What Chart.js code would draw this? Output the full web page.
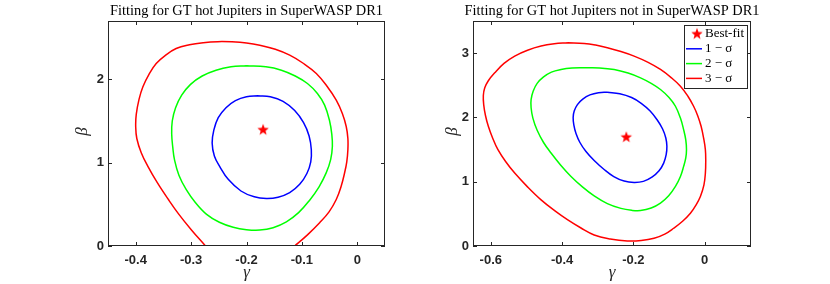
<!DOCTYPE html>
<html>
<head>
<meta charset="utf-8">
<script src="https://cdn.jsdelivr.net/npm/chart.js@4.4.0/dist/chart.umd.min.js"></script>
<style>
  body { margin: 0; background: #fff; width: 830px; height: 284px; overflow: hidden; position: relative; }
  canvas { position: absolute; top: 0; }
</style>
</head>
<body>
<canvas id="leftChart" width="415" height="284" style="left:0"></canvas>
<canvas id="rightChart" width="415" height="284" style="left:415px"></canvas>
<script>
// --- Data: panel 1 (in SuperWASP DR1) ---
const p1Title = "Fitting for GT hot Jupiters in SuperWASP DR1";
const p1XTicks = [-0.4, -0.3, -0.2, -0.1, 0];
const p1YTicks = [0, 1, 2];
const p1Best = { x: -0.17, y: 1.4 };

const p1Sig1Gamma = [-0.179, -0.200, -0.220, -0.237, -0.251, -0.259, -0.262, -0.258, -0.248, -0.233, -0.210, -0.186, -0.164, -0.143, -0.122, -0.104, -0.091, -0.084, -0.083, -0.087, -0.097, -0.113, -0.134, -0.157, -0.179];
const p1Sig1Beta  = [1.803, 1.792, 1.745, 1.660, 1.540, 1.390, 1.235, 1.080, 0.950, 0.800, 0.660, 0.590, 0.570, 0.585, 0.640, 0.740, 0.870, 1.010, 1.155, 1.320, 1.480, 1.625, 1.735, 1.790, 1.803];

const p1Sig2Gamma = [-0.200, -0.228, -0.255, -0.280, -0.301, -0.317, -0.328, -0.334, -0.335, -0.333, -0.330, -0.322, -0.309, -0.292, -0.272, -0.249, -0.224, -0.200, -0.176, -0.152, -0.128, -0.106, -0.086, -0.069, -0.056, -0.048, -0.045, -0.046, -0.050, -0.059, -0.072, -0.090, -0.112, -0.137, -0.165, -0.200];
const p1Sig2Beta  = [2.163, 2.150, 2.110, 2.040, 1.940, 1.810, 1.660, 1.500, 1.340, 1.180, 1.036, 0.850, 0.680, 0.520, 0.380, 0.285, 0.225, 0.196, 0.191, 0.220, 0.290, 0.400, 0.550, 0.710, 0.880, 1.040, 1.195, 1.340, 1.500, 1.690, 1.830, 1.950, 2.040, 2.110, 2.150, 2.163];

const p1Sig3Gamma = [-0.261, -0.274, -0.299, -0.322, -0.341, -0.361, -0.378, -0.390, -0.398, -0.400, -0.399, -0.394, -0.387, -0.376, -0.363, -0.346, -0.327, -0.303, -0.278, -0.252, -0.227, -0.200, -0.176, -0.148, -0.122, -0.097, -0.074, -0.055, -0.038, -0.027, -0.020, -0.017, -0.017, -0.019, -0.023, -0.029, -0.038, -0.051, -0.068, -0.089, -0.113, -0.131];
const p1Sig3Beta  = [-0.100, 0.000, 0.190, 0.380, 0.558, 0.760, 0.956, 1.120, 1.290, 1.434, 1.580, 1.760, 1.912, 2.060, 2.190, 2.290, 2.370, 2.415, 2.440, 2.452, 2.450, 2.437, 2.410, 2.360, 2.290, 2.190, 2.070, 1.920, 1.750, 1.590, 1.434, 1.290, 1.155, 1.010, 0.876, 0.720, 0.558, 0.410, 0.279, 0.140, 0.000, -0.100];

// --- Data: panel 2 (not in SuperWASP DR1) ---
const p2Title = "Fitting for GT hot Jupiters not in SuperWASP DR1";
const p2XTicks = [-0.6, -0.4, -0.2, 0];
const p2YTicks = [0, 1, 2, 3];
const p2Best = { x: -0.22, y: 1.7 };

const p2Sig1Gamma = [-0.273, -0.298, -0.322, -0.342, -0.357, -0.366, -0.369, -0.367, -0.361, -0.350, -0.333, -0.310, -0.282, -0.255, -0.226, -0.198, -0.172, -0.148, -0.128, -0.115, -0.108, -0.106, -0.109, -0.118, -0.133, -0.153, -0.178, -0.205, -0.238, -0.273];
const p2Sig1Beta  = [2.392, 2.385, 2.350, 2.285, 2.200, 2.100, 2.000, 1.880, 1.750, 1.610, 1.470, 1.330, 1.190, 1.080, 1.010, 0.988, 1.005, 1.070, 1.170, 1.290, 1.420, 1.550, 1.680, 1.820, 1.960, 2.100, 2.220, 2.310, 2.370, 2.392];

const p2Sig2Gamma = [-0.338, -0.372, -0.403, -0.430, -0.452, -0.470, -0.481, -0.487, -0.487, -0.482, -0.470, -0.452, -0.431, -0.405, -0.375, -0.343, -0.310, -0.273, -0.235, -0.205, -0.180, -0.150, -0.124, -0.101, -0.082, -0.068, -0.059, -0.053, -0.051, -0.053, -0.059, -0.068, -0.082, -0.100, -0.124, -0.150, -0.180, -0.215, -0.254, -0.295, -0.338];
const p2Sig2Beta  = [2.772, 2.768, 2.746, 2.705, 2.630, 2.530, 2.410, 2.278, 2.150, 1.990, 1.800, 1.610, 1.446, 1.265, 1.082, 0.920, 0.780, 0.660, 0.585, 0.555, 0.551, 0.590, 0.666, 0.780, 0.926, 1.080, 1.238, 1.370, 1.498, 1.650, 1.810, 1.990, 2.174, 2.310, 2.434, 2.530, 2.616, 2.690, 2.746, 2.770, 2.772];

const p2Sig3Gamma = [-0.384, -0.422, -0.459, -0.497, -0.533, -0.563, -0.589, -0.607, -0.617, -0.621, -0.620, -0.615, -0.607, -0.595, -0.580, -0.558, -0.533, -0.497, -0.459, -0.421, -0.384, -0.347, -0.310, -0.265, -0.217, -0.178, -0.142, -0.112, -0.087, -0.062, -0.040, -0.024, -0.012, -0.002, 0.002, 0.003, 0.002, -0.003, -0.010, -0.019, -0.031, -0.047, -0.068, -0.094, -0.124, -0.160, -0.198, -0.235, -0.273, -0.306, -0.338, -0.384];
const p2Sig3Beta  = [3.162, 3.145, 3.110, 3.045, 2.954, 2.840, 2.694, 2.570, 2.460, 2.340, 2.200, 2.030, 1.862, 1.680, 1.498, 1.310, 1.134, 0.920, 0.718, 0.550, 0.406, 0.280, 0.172, 0.110, 0.078, 0.085, 0.120, 0.185, 0.276, 0.385, 0.510, 0.640, 0.770, 0.950, 1.134, 1.320, 1.498, 1.680, 1.862, 2.020, 2.174, 2.330, 2.486, 2.620, 2.746, 2.860, 2.954, 3.025, 3.084, 3.125, 3.151, 3.162];

const legendLabels = ["Best-fit", "1 \u2212 \u03c3", "2 \u2212 \u03c3", "3 \u2212 \u03c3"];

// --- Styles ---
const axisColor = "#262626";
const serif = "'Liberation Serif', 'DejaVu Serif', serif";
const sans = "'Liberation Sans', Arial, sans-serif";

// filled red star used as point marker
function makeStar(r) {
  const c = document.createElement("canvas");
  const s = Math.ceil(r * 2 + 2);
  c.width = s; c.height = s;
  const g = c.getContext("2d");
  g.beginPath();
  for (let i = 0; i < 10; i++) {
    const rad = i % 2 === 0 ? r : r * 0.42;
    const a = -Math.PI / 2 + i * Math.PI / 5;
    const px = s / 2 + rad * Math.cos(a);
    const py = s / 2 + 0.6 + rad * Math.sin(a);
    if (i === 0) g.moveTo(px, py); else g.lineTo(px, py);
  }
  g.closePath();
  g.fillStyle = "#ff0000";
  g.fill();
  return c;
}
const starImg = makeStar(6);

function zip(xs, ys) {
  return xs.map((x, i) => ({ x, y: ys[i] }));
}

function contour(label, xs, ys, color) {
  return {
    label,
    data: zip(xs, ys),
    showLine: true,
    borderColor: color,
    backgroundColor: color,
    borderWidth: 1.5,
    pointRadius: 0,
    tension: 0.4,
    fill: false
  };
}

// --- Frame / ticks / titles / legend plugin ---
const framePlugin = {
  id: "frame",
  afterDatasetsDraw(chart, args, opts) {
    const ctx = chart.ctx;
    const a = chart.chartArea;
    const xs = chart.scales.x, ys = chart.scales.y;
    ctx.save();
    ctx.strokeStyle = axisColor;
    ctx.lineWidth = 1;
    ctx.strokeRect(a.left + 0.5, a.top + 0.5, a.right - a.left - 1, a.bottom - a.top - 1);
    ctx.beginPath();
    xs.ticks.forEach(t => {
      const px = Math.round(xs.getPixelForValue(t.value)) + 0.5;
      ctx.moveTo(px, a.bottom); ctx.lineTo(px, a.bottom - 4);
      ctx.moveTo(px, a.top); ctx.lineTo(px, a.top + 4);
    });
    ys.ticks.forEach(t => {
      const py = Math.round(ys.getPixelForValue(t.value)) + 0.5;
      ctx.moveTo(a.left, py); ctx.lineTo(a.left + 4, py);
      ctx.moveTo(a.right, py); ctx.lineTo(a.right - 4, py);
    });
    ctx.stroke();

    // title
    ctx.fillStyle = "#000";
    ctx.font = "14.4px " + serif;
    ctx.textAlign = "center";
    ctx.textBaseline = "middle";
    ctx.fillText(opts.title, (a.left + a.right) / 2, 11);

    // axis labels
    ctx.fillStyle = axisColor;
    ctx.font = "italic 17px " + serif;
    ctx.fillText("\u03b3", (a.left + a.right) / 2, 273);
    ctx.save();
    ctx.translate(opts.betaX, (a.top + a.bottom) / 2 - 2);
    ctx.rotate(-Math.PI / 2);
    ctx.fillText("\u03b2", 0, 0);
    ctx.restore();

    // legend
    if (opts.legend) {
      const L = opts.legend;
      ctx.fillStyle = "#fff";
      ctx.fillRect(L.x, L.y, L.w, L.h);
      ctx.strokeStyle = axisColor;
      ctx.strokeRect(L.x + 0.5, L.y + 0.5, L.w, L.h);
      ctx.font = "13px " + serif;
      ctx.textAlign = "left";
      ctx.fillStyle = "#000";
      const ds = chart.data.datasets;
      ctx.drawImage(starImg, L.x + 13 - starImg.width / 2, L.y + 8.5 - starImg.height / 2);
      ctx.fillText(ds[0].label, L.x + 21, L.y + 9);
      for (let i = 1; i < 4; i++) {
        const yy = L.y + 9 + i * 14.8;
        ctx.strokeStyle = ds[i].borderColor;
        ctx.lineWidth = 1.5;
        ctx.beginPath();
        ctx.moveTo(L.x + 2, yy); ctx.lineTo(L.x + 18, yy);
        ctx.stroke();
        ctx.fillText(ds[i].label, L.x + 21, yy);
      }
    }
    ctx.restore();
  }
};

function buildChart(id, cfg) {
  const tickFont = { family: sans, size: 13, weight: "bold" };
  return new Chart(document.getElementById(id).getContext("2d"), {
    type: "scatter",
    data: {
      datasets: [
        {
          label: legendLabels[0],
          data: [cfg.best],
          pointStyle: starImg,
          pointRadius: 6,
          showLine: false
        },
        contour(legendLabels[1], cfg.s1x, cfg.s1y, "#0000ff"),
        contour(legendLabels[2], cfg.s2x, cfg.s2y, "#00ff00"),
        contour(legendLabels[3], cfg.s3x, cfg.s3y, "#ff0000")
      ]
    },
    options: {
      responsive: false,
      animation: false,
      layout: { padding: { left: 0, right: cfg.padRight, top: 21, bottom: 0 } },
      plugins: {
        legend: { display: false },
        tooltip: { enabled: false },
        frame: { title: cfg.title, betaX: cfg.betaX, legend: cfg.legend }
      },
      scales: {
        x: {
          type: "linear",
          min: cfg.xmin, max: cfg.xmax,
          afterBuildTicks: s => { s.ticks = cfg.xTicks.map(v => ({ value: v })); },
          afterFit: s => { s.height = 38; },
          grid: { display: false, drawTicks: false },
          border: { display: false },
          ticks: { font: tickFont, color: axisColor, padding: 7, maxRotation: 0, callback: v => String(v) }
        },
        y: {
          type: "linear",
          min: cfg.ymin, max: cfg.ymax,
          afterBuildTicks: s => { s.ticks = cfg.yTicks.map(v => ({ value: v })); },
          afterFit: s => { s.width = cfg.axisLeft; },
          grid: { display: false, drawTicks: false },
          border: { display: false },
          ticks: { font: tickFont, color: axisColor, padding: 4, callback: v => String(v) }
        }
      }
    },
    plugins: [framePlugin]
  });
}

buildChart("leftChart", {
  title: p1Title, best: p1Best,
  s1x: p1Sig1Gamma, s1y: p1Sig1Beta,
  s2x: p1Sig2Gamma, s2y: p1Sig2Beta,
  s3x: p1Sig3Gamma, s3y: p1Sig3Beta,
  xmin: -0.45, xmax: 0.05, ymin: 0, ymax: 2.7,
  xTicks: p1XTicks, yTicks: p1YTicks,
  axisLeft: 108, padRight: 30, betaX: 83, legend: null
});

buildChart("rightChart", {
  title: p2Title, best: p2Best,
  s1x: p2Sig1Gamma, s1y: p2Sig1Beta,
  s2x: p2Sig2Gamma, s2y: p2Sig2Beta,
  s3x: p2Sig3Gamma, s3y: p2Sig3Beta,
  xmin: -0.65, xmax: 0.13, ymin: 0, ymax: 3.5,
  xTicks: p2XTicks, yTicks: p2YTicks,
  axisLeft: 58, padRight: 79, betaX: 38,
  legend: { x: 269, y: 25, w: 63, h: 63 }
});
</script>
</body>
</html>
